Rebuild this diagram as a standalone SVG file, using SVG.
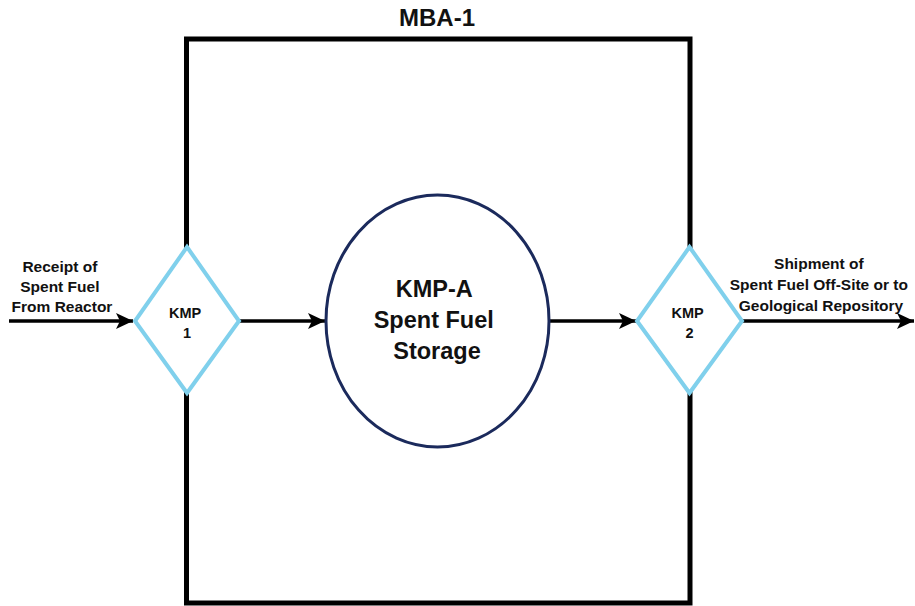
<svg xmlns="http://www.w3.org/2000/svg" width="915" height="606" viewBox="0 0 915 606">
  <style>
    .lbl { font-family: "Liberation Sans", Arial, sans-serif; font-weight: bold; fill: #111; text-anchor: middle; }
    .edge { stroke: #000; stroke-width: 3.5; fill: none; }
    .kmp { fill: #fff; stroke: #80d0ec; stroke-width: 4; }
  </style>
  <defs>
    <marker id="arrow" markerUnits="userSpaceOnUse" markerWidth="18" markerHeight="16" refX="17" refY="8" orient="auto">
      <path d="M0,0 L17,8 L0,16 L4,8 z" fill="#000"/>
    </marker>
  </defs>
  <rect width="915" height="606" fill="#fff"/>

  <!-- material balance area boundary -->
  <g id="mba">
    <rect x="186.5" y="39" width="503.5" height="564" fill="none" stroke="#000" stroke-width="5"/>
    <text class="lbl" x="437" y="26" font-size="24">MBA-1</text>
  </g>

  <!-- flows -->
  <g id="connectors">
    <line class="edge" x1="9" y1="321" x2="133" y2="321" marker-end="url(#arrow)"/>
    <line class="edge" x1="239" y1="321" x2="325" y2="321" marker-end="url(#arrow)"/>
    <line class="edge" x1="549" y1="321" x2="636" y2="321" marker-end="url(#arrow)"/>
    <line class="edge" x1="742" y1="321" x2="914" y2="321" marker-end="url(#arrow)"/>
    <text class="lbl" font-size="15.5">
      <tspan x="62" y="272">Receipt of</tspan>
      <tspan x="62" y="292">Spent Fuel</tspan>
      <tspan x="62" y="312">From Reactor</tspan>
    </text>
    <text class="lbl" font-size="15.5">
      <tspan x="821" y="269">Shipment of</tspan>
      <tspan x="821" y="290">Spent Fuel Off-Site or to</tspan>
      <tspan x="821" y="311">Geological Repository</tspan>
    </text>
  </g>

  <g id="kmp1">
    <polygon class="kmp" points="187,247 239,321 187,393 135,321"/>
    <text class="lbl" font-size="14.5">
      <tspan x="187" y="318">KMP</tspan>
      <tspan x="187" y="338">1</tspan>
    </text>
  </g>

  <g id="kmpA">
    <ellipse cx="437.5" cy="321" rx="111.5" ry="126" fill="#fff" stroke="#1b2a5c" stroke-width="3"/>
    <text class="lbl" font-size="23.5">
      <tspan x="437" y="297">KMP-A</tspan>
      <tspan x="437" y="328">Spent Fuel</tspan>
      <tspan x="437" y="359">Storage</tspan>
    </text>
  </g>

  <g id="kmp2">
    <polygon class="kmp" points="689.5,247 742,321 689.5,393 637,321"/>
    <text class="lbl" font-size="14.5">
      <tspan x="689.5" y="318">KMP</tspan>
      <tspan x="689.5" y="338">2</tspan>
    </text>
  </g>
</svg>
